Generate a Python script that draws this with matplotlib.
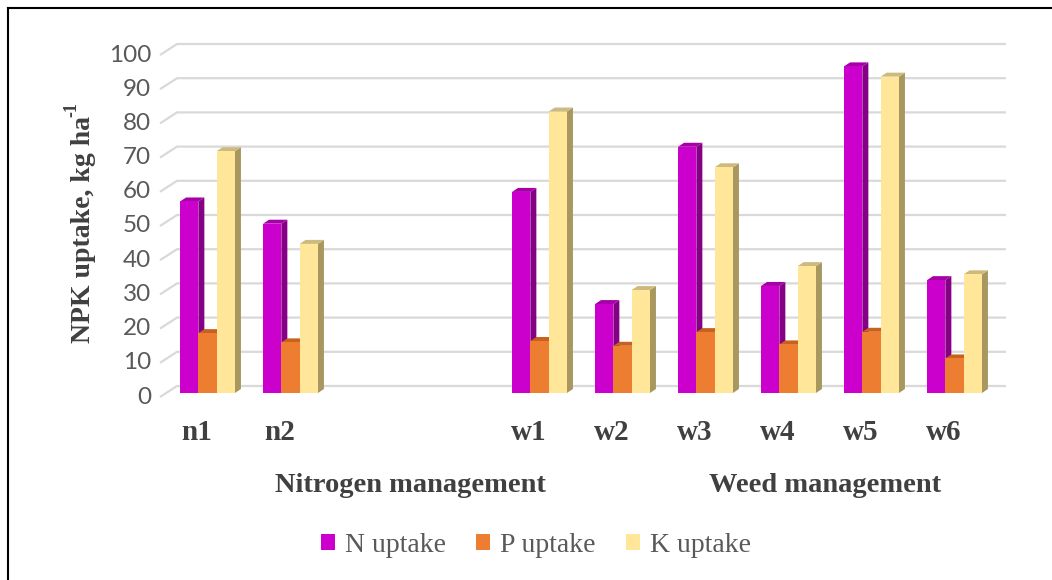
import matplotlib
matplotlib.use("Agg")
import matplotlib.pyplot as plt
from matplotlib.patches import Rectangle, Polygon, Patch
from matplotlib.lines import Line2D

# ---------------- data ----------------
categories = ["n1", "n2", "", "", "w1", "w2", "w3", "w4", "w5", "w6"]
n_uptake = [56, 49.5, None, None, 58.8, 26, 72, 31.3, 95.5, 33]
p_uptake = [17.5, 14.8, None, None, 15.2, 13.8, 17.8, 14.2, 17.9, 10.1]
k_uptake = [70.7, 43.6, None, None, 82.3, 30.1, 66, 37.1, 92.5, 34.7]
series_names = ["N uptake", "P uptake", "K uptake"]
group_labels = ["Nitrogen management", "Weed management"]
y_ticks = list(range(0, 101, 10))

# ---------------- styles ----------------
front_cols = ["#CC00CC", "#ED7D31", "#FFE699"]
side_cols = ["#850085", "#A9521C", "#A8975F"]
top_cols = ["#A800A8", "#C8601E", "#CDBB7E"]
grid_col = "#D9D9D9"
tick_col = "#595959"
label_col = "#404040"

W, H = 1052, 580
fig = plt.figure(figsize=(W / 100, H / 100), dpi=100)

# axes placement (pixels)
px_left, px_right, px_top, px_bot = 150, 1015, 30, 410
ax = fig.add_axes([px_left / W, 1 - px_bot / H, (px_right - px_left) / W, (px_bot - px_top) / H])
ppx = 83.0     # pixels per category slot
ppy = 3.42     # pixels per value unit
x0px, y0px = 207.5, 393.0
ax.set_xlim((px_left - x0px) / ppx, (px_right - x0px) / ppx)
ax.set_ylim((y0px - px_bot) / ppy, (y0px - px_top) / ppy)
ax.axis("off")

def dx(p):
    return p / ppx

def dy(p):
    return p / ppy

# gridlines (back wall + left floor diagonal)
g_front_x, g_back_x, g_right_x = dx(160 - x0px), dx(177 - x0px), dx(1006 - x0px)
for v in y_ticks:
    yf = v - dy(4)
    yb = v + dy(7)
    ax.plot([g_front_x, g_back_x, g_right_x], [yf, yb, yb], color=grid_col, lw=1.6,
            solid_capstyle="butt", zorder=1)
    ax.text(dx(151 - x0px), yf, str(v), ha="right", va="center", fontsize=17.5,
            family="Lato", color=tick_col, clip_on=False)

# bars with 3D faces
bw = dx(18.3)
ddx, ddy = dx(6), dy(4)
series = [n_uptake, p_uptake, k_uptake]
for i, cat in enumerate(categories):
    for s, vals in enumerate(series):
        v = vals[i]
        if v is None:
            continue
        xl = i + (s - 1) * bw - bw / 2
        xr = xl + bw
        side = Polygon([(xr, 0), (xr + ddx, ddy), (xr + ddx, v + ddy), (xr, v)],
                       closed=True, facecolor=side_cols[s], edgecolor="none", zorder=3)
        top = Polygon([(xl, v), (xl + ddx, v + ddy), (xr + ddx, v + ddy), (xr, v)],
                      closed=True, facecolor=top_cols[s], edgecolor="none", zorder=3)
        front = Rectangle((xl, 0), bw, v, facecolor=front_cols[s], edgecolor="none", zorder=3)
        ax.add_patch(side)
        ax.add_patch(top)
        ax.add_patch(front)

# category labels
for i, cat in enumerate(categories):
    if cat:
        ax.text(i + dx(-10.5), dy(393 - 432), cat, ha="center", va="center", fontsize=21,
                family="Liberation Serif", fontweight="bold", color=label_col, clip_on=False)

# group labels
group_x = [dx(410 - x0px), dx(825 - x0px)]
for gx, gl in zip(group_x, group_labels):
    ax.text(gx, dy(393 - 486), gl, ha="center", va="center", fontsize=20.5,
            family="Liberation Serif", fontweight="bold", color=label_col, clip_on=False)

# y axis label (main text + small superscript)
fig.text(83 / W, 1 - 229 / H, "NPK uptake, kg ha", rotation=90,
         ha="center", va="center", fontsize=20, family="Liberation Serif",
         fontweight="bold", color=label_col)
fig.text(72 / W, 1 - 110 / H, "-1", rotation=90, ha="center", va="center",
         fontsize=13, family="Liberation Serif", fontweight="bold", color=label_col)

# legend
handles = [Patch(facecolor=c, edgecolor="none") for c in front_cols]
fig.legend(handles, series_names, loc="center", bbox_to_anchor=(536 / W, 1 - 545 / H),
           ncol=3, frameon=False, prop={"family": "Liberation Serif", "size": 20},
           labelcolor=tick_col, handlelength=0.5, handleheight=0.5, handletextpad=0.35,
           columnspacing=1.1)

# border lines (top and left)
fig.add_artist(Line2D([7.5 / W, 1], [1 - 7.5 / H, 1 - 7.5 / H], color="black", lw=1.5,
                      transform=fig.transFigure))
fig.add_artist(Line2D([7.5 / W, 7.5 / W], [0, 1 - 7.5 / H], color="black", lw=1.5,
                      transform=fig.transFigure))

fig.savefig("out.png", dpi=100)
